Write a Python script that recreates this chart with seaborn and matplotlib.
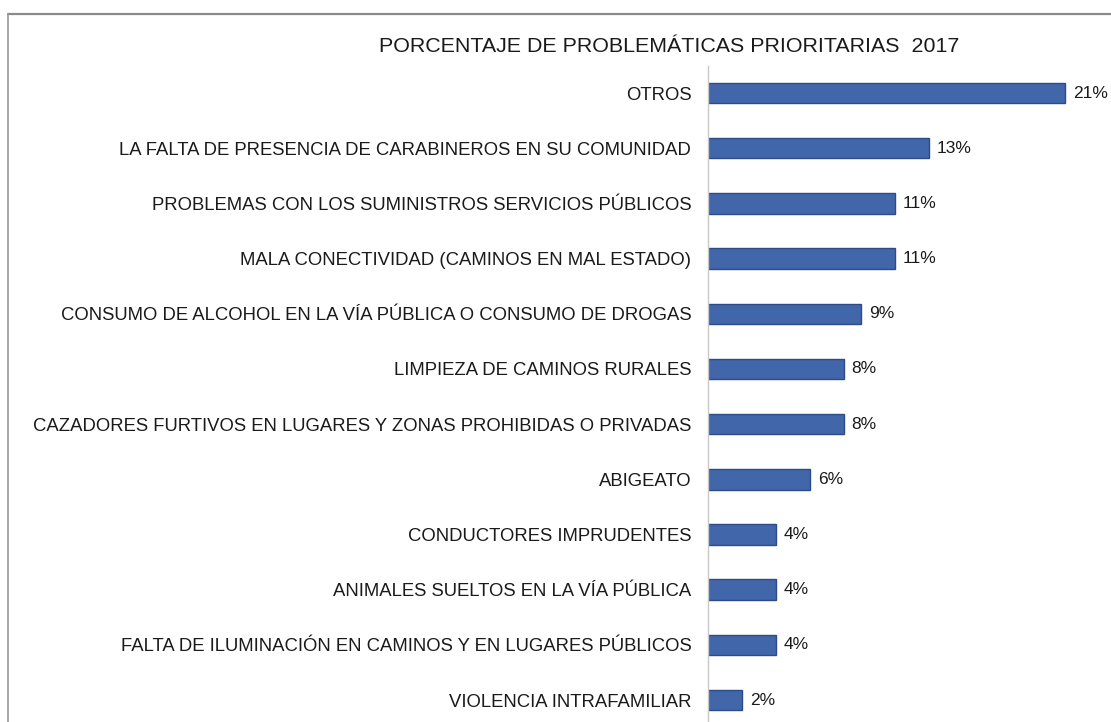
import matplotlib
matplotlib.use("Agg")
import matplotlib.pyplot as plt
import seaborn as sns
import pandas as pd
from matplotlib.lines import Line2D

sns.set_theme(style="white")
plt.rcParams["font.family"] = ["Liberation Sans", "DejaVu Sans"]

# data
categories = [
    "OTROS",
    "LA FALTA DE PRESENCIA DE CARABINEROS EN SU COMUNIDAD",
    "PROBLEMAS CON LOS SUMINISTROS SERVICIOS PÚBLICOS",
    "MALA CONECTIVIDAD (CAMINOS EN MAL ESTADO)",
    "CONSUMO DE ALCOHOL EN LA VÍA PÚBLICA O CONSUMO DE DROGAS",
    "LIMPIEZA DE CAMINOS RURALES",
    "CAZADORES FURTIVOS EN LUGARES Y ZONAS PROHIBIDAS O PRIVADAS",
    "ABIGEATO",
    "CONDUCTORES IMPRUDENTES",
    "ANIMALES SUELTOS EN LA VÍA PÚBLICA",
    "FALTA DE ILUMINACIÓN EN CAMINOS Y EN LUGARES PÚBLICOS",
    "VIOLENCIA INTRAFAMILIAR",
]
percent = [21, 13, 11, 11, 9, 8, 8, 6, 4, 4, 4, 2]
title = "PORCENTAJE DE PROBLEMÁTICAS PRIORITARIAS  2017"

df = pd.DataFrame({"problema": categories, "pct": percent})

W, H = 1111, 722
fig = plt.figure(figsize=(W / 100, H / 100), dpi=100)
ax = fig.add_axes([708 / W, -5.6 / H, 391 / W, 0.917])

sns.barplot(data=df, x="pct", y="problema", orient="h", color="#4266aa",
            width=0.37, edgecolor="#2c4b88", linewidth=1.0, saturation=1, ax=ax)

ax.set_xlim(0, 23)
ax.set_xlabel("")
ax.set_ylabel("")
ax.set_xticks([])
ax.tick_params(axis="y", length=0, pad=12, labelsize=13.3, labelcolor="#1a1a1a")
for s in ["top", "right", "bottom"]:
    ax.spines[s].set_visible(False)
ax.spines["left"].set_color("#c8c8c8")
ax.spines["left"].set_linewidth(1.0)

for i, v in enumerate(percent):
    ax.text(v + 0.45, i, f"{v}%", va="center", ha="left", fontsize=12.5, color="#1a1a1a")

fig.text(669 / W, 1 - 47 / H, title, ha="center", va="center", fontsize=15.4, color="#1a1a1a")

# outer frame (top and left edges visible in the reference)
fig.add_artist(Line2D([8 / W, 1], [1 - 14 / H, 1 - 14 / H], color="#8a8a8a", lw=1.6))
fig.add_artist(Line2D([8 / W, 8 / W], [0, 1 - 14 / H], color="#9a9a9a", lw=1.2))

fig.savefig("out.png", dpi=100, facecolor="white")
